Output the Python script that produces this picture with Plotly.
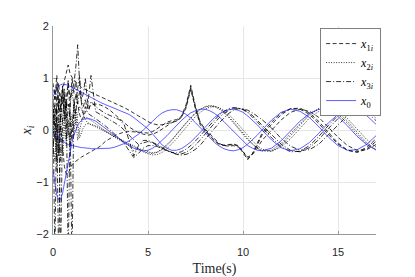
import plotly.graph_objects as go

# time grid (s)
T = [0.0, 0.1, 0.2, 0.3, 0.4, 0.5, 0.6, 0.7, 0.8, 0.9, 1.0, 1.1, 1.2, 1.3, 1.4, 1.5, 1.6, 1.7, 1.8, 1.9, 2.0,
     2.25, 2.5, 2.75, 3.0, 3.25, 3.5, 3.75, 4.0, 4.25, 4.5, 4.75, 5.0,
     5.25, 5.5, 5.75, 6.0, 6.25, 6.5, 6.75, 7.0, 7.25, 7.5, 7.75, 8.0, 8.25, 8.5, 8.75, 9.0, 9.25, 9.5, 9.75,
     10.0, 10.25, 10.5, 10.75, 11.0,
     11.5, 12.0, 12.5, 13.0, 13.5, 14.0, 14.5, 15.0, 15.5, 16.0, 16.5, 17.0]

# leader x0 (three components, blue)
x0_1 = [0.00, -0.05, -0.10, -0.14, -0.18, -0.21, -0.24, -0.26, -0.28, -0.29, -0.30, -0.31, -0.32, -0.33, -0.33, -0.34, -0.34, -0.35, -0.35, -0.35, -0.36,
        -0.36, -0.36, -0.36, -0.35, -0.33, -0.30, -0.26, -0.21, -0.15, -0.08, 0.00, 0.08,
        0.17, 0.26, 0.33, 0.37, 0.39, 0.39, 0.36, 0.30, 0.23, 0.14, 0.04, -0.06, -0.16, -0.24, -0.31, -0.36, -0.39, -0.40, -0.38, -0.34, -0.27, -0.19, -0.10, 0.00,
        0.19, 0.34, 0.40, 0.36, 0.24, 0.06, -0.14, -0.30, -0.39, -0.38, -0.28, -0.11]
x0_2 = [-0.78, -1.05, -1.25, -1.34, -1.33, -1.22, -1.02, -0.80, -0.58, -0.40, -0.24, -0.10, 0.01, 0.09, 0.15, 0.19, 0.21, 0.22, 0.22, 0.22, 0.21,
        0.17, 0.10, 0.03, -0.04, -0.11, -0.18, -0.24, -0.30, -0.35, -0.38, -0.40, -0.39,
        -0.35, -0.28, -0.20, -0.11, -0.01, 0.09, 0.18, 0.26, 0.33, 0.37, 0.40, 0.40, 0.37, 0.32, 0.25, 0.16, 0.07, -0.03, -0.13, -0.22, -0.30, -0.35, -0.39, -0.40,
        -0.35, -0.21, -0.03, 0.17, 0.32, 0.40, 0.37, 0.26, 0.08, -0.12, -0.28, -0.38]
x0_3 = [0.64, 0.74, 0.80, 0.84, 0.87, 0.88, 0.88, 0.87, 0.86, 0.84, 0.82, 0.80, 0.78, 0.76, 0.74, 0.72, 0.70, 0.68, 0.67, 0.65, 0.63,
        0.58, 0.53, 0.49, 0.45, 0.42, 0.38, 0.34, 0.30, 0.24, 0.17, 0.10, 0.02,
        -0.08, -0.19, -0.29, -0.35, -0.39, -0.39, -0.36, -0.30, -0.23, -0.14, -0.04, 0.06, 0.16, 0.24, 0.31, 0.36, 0.39, 0.40, 0.38, 0.34, 0.27, 0.19, 0.10, 0.00,
        -0.19, -0.34, -0.40, -0.36, -0.24, -0.06, 0.14, 0.30, 0.39, 0.38, 0.28, 0.11]

# followers, component 1 (dashed)
x1_a = [0.90, 0.60, 1.05, 0.50, 0.20, 0.70, 0.95, 1.10, 1.25, 1.08, 1.00, 0.95, 0.92, 0.88, 0.85, 0.82, 0.80, 0.78, 0.76, 0.74, 0.72,
        0.68, 0.64, 0.60, 0.56, 0.52, 0.48, 0.43, 0.38, 0.32, 0.27, 0.22, 0.16,
        0.12, 0.10, 0.10, 0.12, 0.15, 0.17, 0.24, 0.45, 0.82, 0.40, 0.10, -0.02, -0.12, -0.21, -0.28, -0.30, -0.29, -0.28, -0.31, -0.43, -0.57, -0.45, -0.26, -0.06,
        0.15, 0.32, 0.41, 0.40, 0.30, 0.12, -0.09, -0.27, -0.39, -0.42, -0.34, -0.17]
x1_b = [0.30, -0.20, 0.40, -0.50, 0.10, -0.30, -0.70, -0.85, -0.84, -0.75, -0.67, -0.63, -0.60, -0.57, -0.55, -0.52, -0.50, -0.48, -0.45, -0.43, -0.41,
        -0.37, -0.31, -0.22, -0.16, -0.11, -0.07, -0.04, -0.03, -0.03, -0.04, -0.05, -0.06,
        -0.03, 0.03, 0.10, 0.15, 0.18, 0.20, 0.26, 0.48, 0.86, 0.45, 0.13, 0.00, -0.10, -0.20, -0.27, -0.29, -0.28, -0.27, -0.30, -0.41, -0.55, -0.46, -0.29, -0.10,
        0.11, 0.29, 0.41, 0.42, 0.33, 0.16, -0.05, -0.25, -0.39, -0.43, -0.37, -0.22]
x1_c = [0.20, 0.80, 0.30, 0.90, 0.40, 0.85, 0.20, 0.60, 0.95, 0.30, -0.20, 0.40, 0.70, 0.50, 0.30, 0.20, 0.25, 0.35, 0.40, 0.45, 0.48,
        0.50, 0.48, 0.44, 0.38, 0.30, 0.22, 0.14, 0.06, 0.00, -0.05, -0.08, -0.10,
        -0.08, -0.04, 0.02, 0.08, 0.14, 0.18, 0.24, 0.42, 0.78, 0.42, 0.15, 0.02, -0.08, -0.18, -0.26, -0.30, -0.31, -0.30, -0.33, -0.42, -0.52, -0.47, -0.35, -0.20,
        0.00, 0.19, 0.34, 0.40, 0.36, 0.24, 0.05, -0.14, -0.30, -0.39, -0.38, -0.28]

# followers, component 2 (dotted)
x2_a = [-0.30, -0.60, 0.20, -0.40, 0.50, 0.10, 0.60, 0.30, -0.10, 0.50, 0.80, 0.40, 0.10, 0.30, 0.45, 0.40, 0.30, 0.20, 0.15, 0.12, 0.10,
        0.06, 0.02, -0.03, -0.08, -0.13, -0.18, -0.23, -0.28, -0.33, -0.37, -0.41, -0.44,
        -0.45, -0.43, -0.38, -0.30, -0.20, -0.10, 0.02, 0.13, 0.23, 0.32, 0.39, 0.44, 0.46, 0.45, 0.40, 0.33, 0.24, 0.14, 0.03, -0.08, -0.19, -0.28, -0.35, -0.40,
        -0.39, -0.26, -0.07, 0.14, 0.31, 0.41, 0.41, 0.30, 0.13, -0.08, -0.27, -0.39]
x2_b = [0.50, 0.10, -0.30, 0.20, -0.60, -0.20, 0.30, -0.30, 0.20, -0.40, 0.10, 0.50, 0.20, -0.20, 0.00, 0.15, 0.22, 0.25, 0.24, 0.21, 0.18,
        0.12, 0.05, -0.02, -0.08, -0.14, -0.19, -0.24, -0.30, -0.40, -0.36, -0.38, -0.42,
        -0.44, -0.42, -0.36, -0.28, -0.19, -0.08, 0.03, 0.14, 0.24, 0.33, 0.40, 0.45, 0.47, 0.46, 0.42, 0.35, 0.26, 0.16, 0.05, -0.06, -0.17, -0.27, -0.35, -0.40,
        -0.41, -0.30, -0.11, 0.10, 0.29, 0.41, 0.42, 0.34, 0.17, -0.04, -0.24, -0.38]
x2_c = [-0.10, 0.40, -0.80, -0.20, 0.30, -0.50, 0.00, 0.50, 0.00, -0.30, 0.30, -0.10, 0.40, 0.10, -0.15, -0.05, 0.05, 0.10, 0.12, 0.12, 0.11,
        0.08, 0.03, -0.02, -0.07, -0.12, -0.17, -0.22, -0.27, -0.30, -0.36, -0.42, -0.46,
        -0.48, -0.47, -0.43, -0.36, -0.27, -0.17, -0.06, 0.05, 0.16, 0.26, 0.34, 0.40, 0.44, 0.45, 0.43, 0.38, 0.30, 0.21, 0.11, 0.00, -0.11, -0.21, -0.30, -0.37,
        -0.41, -0.33, -0.17, 0.03, 0.23, 0.36, 0.41, 0.36, 0.22, 0.02, -0.18, -0.33]

# followers, component 3 (dash-dot)
x3_a = [0.60, -2.60, 0.90, 0.40, 0.70, 0.50, 0.80, 0.40, 0.90, 0.60, 0.75, 0.90, 1.20, 1.64, 0.90, 0.60, 0.70, 1.00, 0.60, 0.40, 0.55,
        0.45, 0.38, 0.32, 0.28, 0.24, 0.20, 0.10, -0.20, -0.50, -0.30, -0.20, -0.20,
        -0.24, -0.28, -0.34, -0.39, -0.43, -0.44, -0.42, -0.37, -0.30, -0.21, -0.11, -0.01, 0.10, 0.20, 0.29, 0.36, 0.41, 0.43, 0.42, 0.39, 0.33, 0.25, 0.16, 0.06,
        -0.15, -0.32, -0.42, -0.41, -0.30, -0.12, 0.09, 0.28, 0.40, 0.43, 0.35, 0.18]
x3_b = [0.20, 0.50, 0.10, -2.60, 0.30, 0.80, 0.30, 0.60, -2.60, 0.40, 1.00, 0.70, 0.95, 0.50, 0.75, 0.55, 0.45, 0.60, 0.40, 0.70, 1.05,
        0.35, 0.30, 0.25, 0.20, 0.14, 0.08, 0.00, -0.10, -0.20, -0.28, -0.25, -0.22,
        -0.25, -0.30, -0.36, -0.40, -0.43, -0.46, -0.46, -0.43, -0.37, -0.29, -0.19, -0.08, 0.03, 0.14, 0.24, 0.32, 0.38, 0.42, 0.42, 0.40, 0.35, 0.28, 0.19, 0.10,
        -0.09, -0.27, -0.39, -0.42, -0.34, -0.18, 0.03, 0.22, 0.37, 0.42, 0.37, 0.23]
x3_c = [-0.50, 0.30, -0.60, 0.60, -2.60, 0.20, 0.70, -0.20, 0.50, 0.20, -2.60, 0.60, 0.30, 0.80, 1.05, 0.50, 0.30, 0.45, 0.35, 0.30, 0.28,
        0.22, 0.15, 0.08, 0.00, -0.08, -0.16, -0.26, -0.40, -0.53, -0.45, -0.35, -0.30,
        -0.30, -0.32, -0.36, -0.40, -0.44, -0.47, -0.48, -0.47, -0.43, -0.37, -0.29, -0.19, -0.08, 0.03, 0.14, 0.24, 0.32, 0.38, 0.41, 0.41, 0.38, 0.33, 0.26, 0.20,
        0.04, -0.16, -0.31, -0.39, -0.38, -0.27, -0.09, 0.10, 0.28, 0.38, 0.39, 0.31]

x_ticks = [0, 5, 10, 15]
y_ticks = [-2, -1, 0, 1, 2]
legend_labels = ["<i>x</i><sub>1<i>i</i></sub>", "<i>x</i><sub>2<i>i</i></sub>",
                 "<i>x</i><sub>3<i>i</i></sub>", "<i>x</i><sub>0</sub>"]

DASH = "4px,2.5px"
DOT = "1px,1.5px"
DASHDOT = "5px,2px,1px,2px"

fig = go.Figure()
groups = [
    ([x1_a, x1_b, x1_c], DASH, legend_labels[0], "black", 0.8),
    ([x2_a, x2_b, x2_c], DOT, legend_labels[1], "black", 0.8),
    ([x3_a, x3_b, x3_c], DASHDOT, legend_labels[2], "black", 0.8),
    ([x0_1, x0_2, x0_3], "solid", legend_labels[3], "#1a1aff", 0.7),
]
for series, dash, label, color, w in groups:
    for k, ys in enumerate(series):
        fig.add_trace(go.Scatter(
            x=T, y=ys, mode="lines",
            line=dict(color=color, width=w, dash=dash),
            name=label, legendgroup=label, showlegend=(k == 0),
            hoverinfo="skip"))

axis_common = dict(
    showgrid=True, gridcolor="#e6e6e6", gridwidth=1,
    zeroline=False, showline=True, linecolor="#999999", linewidth=1,
    ticks="inside", ticklen=3, tickcolor="#999999",
    tickfont=dict(family="Liberation Sans", size=11, color="#262626"),
    mirror=False,
)
fig.update_xaxes(range=[0, 17], tickvals=x_ticks, ticklabelstandoff=8,
                 title=dict(text="Time(s)", font=dict(family="Liberation Serif", size=14, color="#262626"), standoff=5),
                 **axis_common)
fig.update_yaxes(range=[-2, 2], tickvals=y_ticks, ticklabelstandoff=1,
                 title=dict(text="<i>x<sub>i</sub></i>", font=dict(family="Liberation Serif", size=14, color="#262626"), standoff=1),
                 **axis_common)

# the page body adds an 8px offset, so margins are shifted to compensate
fig.update_layout(
    width=415, height=277,
    margin=dict(l=45, r=47, t=13, b=49),
    paper_bgcolor="white", plot_bgcolor="white",
    showlegend=True,
    legend=dict(x=0.827, y=0.99, xanchor="left", yanchor="top",
                bgcolor="white", bordercolor="#808080", borderwidth=1,
                font=dict(family="Liberation Serif", size=12, color="black"),
                tracegroupgap=0, itemwidth=30),
)

fig.write_html("out.html")
